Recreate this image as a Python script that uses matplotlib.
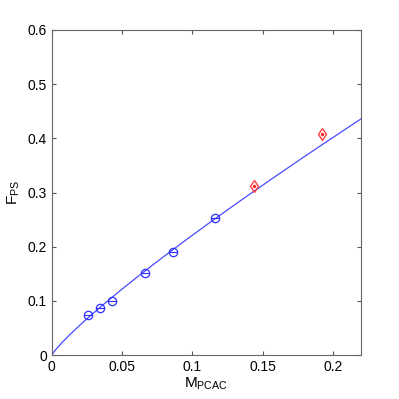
import numpy as np
import matplotlib
matplotlib.use("Agg")
from matplotlib import pyplot as plt

plt.rcParams['font.family'] = ['Liberation Sans', 'DejaVu Sans']
plt.rcParams['mathtext.default'] = 'regular'

# measured points (blue) and extra points (red)
m_blue = [0.0258, 0.0342, 0.0425, 0.0662, 0.0859, 0.1161]
f_blue = [0.0738, 0.0862, 0.1002, 0.1508, 0.1907, 0.2524]
m_red = [0.1440, 0.1925]
f_red = [0.312, 0.408]

# fit parameters for the curve  F = c * M^p
fit_c = 1.603
fit_p = 0.86

fig = plt.figure(figsize=(3.99, 3.99), dpi=100)
ax = fig.add_axes([0.130, 0.110, 0.775, 0.815])

xs = np.linspace(0, 0.22, 300)
ax.plot(xs, fit_c * xs ** fit_p, color="#4a4aff", lw=0.9)

ax.plot(m_blue, f_blue, 'o', mfc='none', mec='#3030ff', ms=6, mew=0.9)
ax.plot(m_blue, f_blue, '_', color='#3030ff', ms=6, mew=0.8)
ax.plot(m_red, f_red, 'd', mfc='none', mec='#ff3030', ms=6, mew=0.9)
ax.plot(m_red, f_red, '.', color='#ff3030', ms=3)

ax.set_xlim(0, 0.22)
ax.set_ylim(0, 0.6)
ax.set_xticks([0, 0.05, 0.1, 0.15, 0.2])
ax.set_xticklabels(['0', '0.05', '0.1', '0.15', '0.2'])
ax.set_yticks([0, 0.1, 0.2, 0.3, 0.4, 0.5, 0.6])
ax.set_yticklabels(['0', '0.1', '0.2', '0.3', '0.4', '0.5', '0.6'])
ax.tick_params(direction='in', top=True, right=True, labelsize=10, length=3,
               color='#555555')
for s in ax.spines.values():
    s.set_color('#666666')

ax.set_xlabel('M$_{PCAC}$', fontsize=11, labelpad=1)
ax.set_ylabel('F$_{PS}$', fontsize=11, labelpad=4)

fig.savefig('out.png', dpi=100)
